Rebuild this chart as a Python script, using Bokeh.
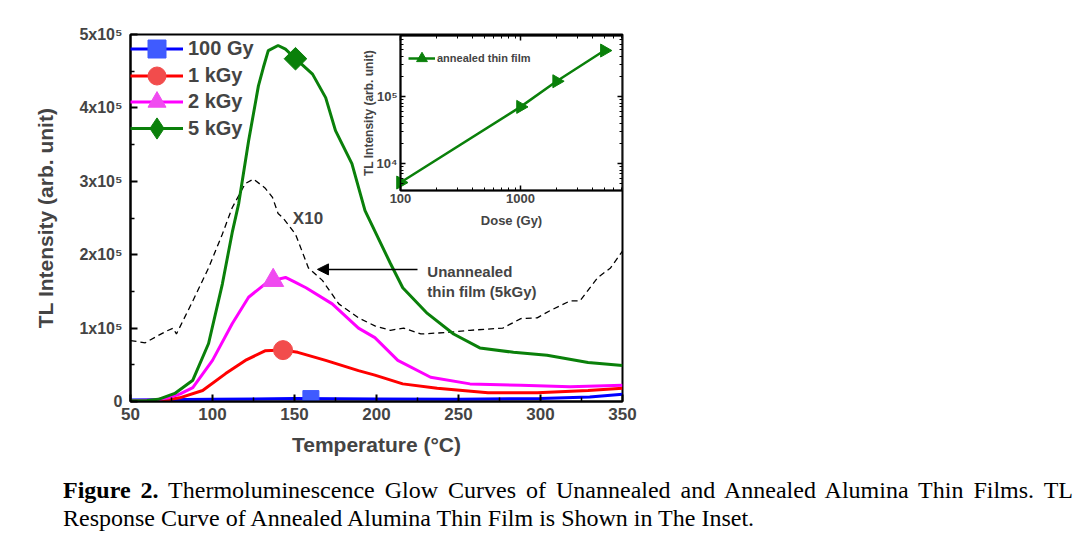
from bokeh.plotting import figure
from bokeh.models import (Range1d, FixedTicker, CustomJSTickFormatter, Legend, LegendItem,
                          Arrow, NormalHead, Label, Div, LogAxis, LogScale, BoxAnnotation)
from bokeh.layouts import column
from bokeh.embed import file_html
from bokeh.resources import INLINE

FONT = "Liberation Sans"

# ---- Glow curves of annealed films (temperature in deg C, TL intensity in arb. units)
t_100gy = [50, 100, 150, 200, 250, 300, 330, 350]
i_100gy = [2000, 3000, 4000, 3500, 3000, 4000, 6000, 10000]

t_1kgy = [50, 70, 80, 94, 108, 120, 132, 143, 152, 169, 189, 199, 216, 237, 268, 298, 329, 350]
i_1kgy = [1000, 1500, 5000, 15000, 38000, 56000, 69000, 70000, 67000, 56000, 42000, 36000,
          24000, 18000, 12000, 12000, 15000, 18000]

t_2kgy = [50, 65, 73, 80, 88, 100, 112, 122, 132, 137, 144.5, 150, 157, 173, 189, 199, 213,
          233, 257, 288, 318, 350]
i_2kgy = [1000, 2000, 5000, 10000, 19000, 56000, 106000, 142000, 160000, 165000, 169000,
          163000, 155000, 133000, 100000, 87000, 56000, 33000, 24000, 22000, 20000, 22000]

t_5kgy = [50, 60, 67, 77, 88, 97.6, 106, 112, 116, 122, 128, 131, 134, 140, 144.5, 150.6, 161,
          169, 175, 185, 193, 196, 208.5, 216, 231, 247, 263, 283.5, 304, 329, 350]
i_5kgy = [1000, 1500, 3000, 11000, 29000, 79000, 160000, 230000, 270000, 355000, 430000,
          455000, 478000, 485000, 480000, 467000, 446000, 414000, 369000, 324000, 260000,
          246000, 188000, 155000, 120000, 92000, 73000, 67000, 63000, 53000, 49000]

# Unannealed film at 5 kGy, already multiplied by 10
t_unann = [50, 59, 67, 72, 76, 78, 88, 97.6, 106, 112, 120, 125, 132, 136.6, 140, 143, 150.6,
           158.5, 167, 177, 189, 199, 208.5, 216.5, 227, 243, 257, 277, 288, 298, 306, 318,
           324, 335, 342.7, 350]
i_unann = [83000, 80000, 90000, 96000, 100000, 92000, 137000, 182000, 228000, 264000, 297000,
           303000, 291000, 278000, 256000, 250000, 228000, 182000, 165000, 133000, 114000,
           103000, 97000, 100000, 92000, 94000, 97000, 100000, 113000, 114000, 124000, 137000,
           137000, 169000, 182000, 205000]

# One symbol per curve
mark_t = {"100 Gy": [160], "1 kGy": [143], "2 kGy": [137], "5 kGy": [150.6]}
mark_i = {"100 Gy": [4000], "1 kGy": [70000], "2 kGy": [165000], "5 kGy": [467000]}

# Dose response (inset)
dose_gy = [100, 1000, 2000, 5000]
peak_tl = [5200, 70000, 169000, 485000]

x_ticks = [50, 100, 150, 200, 250, 300, 350]
x_minor = [75, 125, 175, 225, 275, 325]
y_ticks = [0, 100000, 200000, 300000, 400000, 500000]
y_minor = [50000, 150000, 250000, 350000, 450000]

dose_ticks = [100, 1000]
dose_minor = [200, 300, 400, 500, 600, 700, 800, 900, 2000, 3000, 4000, 5000, 6000, 7000]
tl_ticks = [10000, 100000]
tl_minor = [4000, 5000, 6000, 7000, 8000, 9000, 20000, 30000, 40000, 50000, 60000, 70000,
            80000, 90000, 200000, 300000, 400000, 500000, 600000, 700000, 800000]

# inset box limits (dose in Gy, TL in arb. units)
inset_dose = (100, 7080)
inset_tl = (3955, 813000)

# ---- main glow-curve plot; the inset shares its frame through extra log scales
p = figure(width=1078, height=470, x_range=Range1d(50, 350), y_range=Range1d(0, 500000),
           extra_x_ranges={"dose": Range1d(0.5623, 7080)},
           extra_y_ranges={"tl": Range1d(2.81, 842000)},
           extra_x_scales={"dose": LogScale()},
           extra_y_scales={"tl": LogScale()},
           output_backend="svg", toolbar_location=None,
           min_border_left=130, min_border_right=456, min_border_top=34, min_border_bottom=69)
p.xgrid.visible = False
p.ygrid.visible = False
p.outline_line_color = "black"
p.outline_line_width = 2
p.outline_line_alpha = 1

for ax in (p.xaxis[0], p.yaxis[0]):
    ax.axis_line_width = 2
    ax.major_tick_in = 7
    ax.major_tick_out = 0
    ax.minor_tick_in = 4
    ax.minor_tick_out = 0
    ax.major_tick_line_width = 2
    ax.minor_tick_line_width = 1.5
    ax.major_label_text_font = FONT
    ax.major_label_text_font_style = "bold"
    ax.major_label_text_font_size = "17px"
    ax.axis_label_text_font = FONT
    ax.axis_label_text_font_style = "bold"

p.xaxis.ticker = FixedTicker(ticks=x_ticks, minor_ticks=x_minor)
p.yaxis.ticker = FixedTicker(ticks=y_ticks, minor_ticks=y_minor)
p.yaxis.formatter = CustomJSTickFormatter(
    code="return tick == 0 ? '0' : Math.round(tick / 1e5) + 'x10\u2075';")
p.yaxis.major_label_text_font_size = "16px"
p.xaxis.axis_label = "Temperature (\u00b0C)"
p.yaxis.axis_label = "TL Intensity (arb. unit)"
p.xaxis.axis_label_text_font_size = "21px"
p.yaxis.axis_label_text_font_size = "21px"
p.xaxis.major_label_standoff = 6
p.xaxis.axis_label_standoff = 10
p.yaxis.major_label_standoff = 8
p.yaxis.axis_label_standoff = 19

p.line(t_unann, i_unann, line_color="black", line_width=1.3, line_dash="6 4")

# name, temperatures, intensities, line colour, symbol colour, symbol, size, angle
series = [
    ("100 Gy", t_100gy, i_100gy, "#0000FF", "#3F5BFF", "square", 16, 0.0),
    ("1 kGy", t_1kgy, i_1kgy, "#FF0000", "#F24C4C", "circle", 19, 0.0),
    ("2 kGy", t_2kgy, i_2kgy, "#FF00FF", "#F04BF0", "triangle", 21, 0.0),
    ("5 kGy", t_5kgy, i_5kgy, "#0A800A", "#0A800A", "square", 16, 0.785398),
]
# legend rows: (bottom offset above the frame's lower edge, row height)
legend_rows = [(330, 45), (303, 45), (277, 45), (243, 60)]
for (name, tx, iy, lc, mc, mk, sz, ang), (off, gh) in zip(series, legend_rows):
    lr = p.line(tx, iy, line_color=lc, line_width=3)
    mr = p.scatter(mark_t[name], mark_i[name], marker=mk, size=sz, angle=ang,
                   fill_color=mc, line_color=mc)
    key = mr
    if ang:
        # legend keys are drawn unrotated, so the tilted square gets a diamond key
        key = p.scatter(mark_t[name], mark_i[name], marker="diamond", size=sz,
                        fill_color=mc, line_color=mc, visible=False)
    p.add_layout(Legend(items=[LegendItem(label=name, renderers=[lr, key])],
                        location=(0, off), glyph_width=53, glyph_height=gh,
                        padding=0, margin=0, label_standoff=5, label_text_font=FONT,
                        label_text_font_style="bold", label_text_font_size="20px",
                        background_fill_alpha=0, border_line_color=None,
                        inactive_fill_alpha=0))

p.add_layout(Arrow(end=NormalHead(size=11, fill_color="black", line_color="black"),
                   x_start=225, y_start=180000, x_end=164, y_end=180000,
                   line_color="black", line_width=1.5))
p.add_layout(Label(x=149, y=249000, text="X10", text_baseline="middle", text_font=FONT,
                   text_font_style="bold", text_font_size="17px"))
p.add_layout(Label(x=231, y=189000, text="Unannealed", text_baseline="top", text_font=FONT,
                   text_font_style="bold", text_font_size="15px"))
p.add_layout(Label(x=231, y=162000, text="thin film (5kGy)", text_baseline="top",
                   text_font=FONT, text_font_style="bold", text_font_size="15px"))

# ---- inset: dose response on log-log axes inside the upper right corner
p.add_layout(BoxAnnotation(left=inset_dose[0], right=inset_dose[1],
                           bottom=inset_tl[0], top=inset_tl[1],
                           x_range_name="dose", y_range_name="tl", level="underlay",
                           fill_color="white", fill_alpha=1,
                           line_color="black", line_width=2, line_alpha=1))


def inset_axis(side, loc, bounds):
    ax = LogAxis(x_range_name="dose", y_range_name="tl", fixed_location=loc, bounds=bounds,
                 axis_line_width=1.5, major_tick_in=5, major_tick_out=0, minor_tick_in=3,
                 minor_tick_out=0, major_tick_line_width=1.5,
                 major_label_text_font=FONT, major_label_text_font_style="bold",
                 major_label_text_font_size="13px", major_label_standoff=3,
                 axis_label_text_font=FONT, axis_label_text_font_style="bold",
                 axis_label_text_font_size="12px")
    if side in ("below", "above"):
        ax.ticker = FixedTicker(ticks=dose_ticks, minor_ticks=dose_minor)
        ax.formatter = CustomJSTickFormatter(code="return tick.toFixed(0);")
    else:
        ax.ticker = FixedTicker(ticks=tl_ticks, minor_ticks=tl_minor)
        ax.formatter = CustomJSTickFormatter(
            code="const s = {4: '\u2074', 5: '\u2075'};"
                 " return '10' + s[Math.round(Math.log10(tick))];")
    if side in ("above", "right"):
        ax.formatter = CustomJSTickFormatter(code="return '';")
    p.add_layout(ax, side)
    return ax


ax_b = inset_axis("below", inset_tl[0], inset_dose)
ax_b.axis_label = "Dose (Gy)"
ax_b.axis_label_text_font_size = "13px"
ax_b.axis_label_standoff = 7
ax_l = inset_axis("left", inset_dose[0], inset_tl)
ax_l.axis_label = "TL Intensity (arb. unit)"
ax_l.axis_label_standoff = -2
inset_axis("above", inset_tl[1], inset_dose)
inset_axis("right", inset_dose[1], inset_tl)

il = p.line(dose_gy, peak_tl, x_range_name="dose", y_range_name="tl",
            line_color="#0A800A", line_width=2.5)
im = p.scatter(dose_gy, peak_tl, x_range_name="dose", y_range_name="tl",
               marker="triangle", angle=-1.5708, size=13,
               fill_color="#0A800A", line_color="#0A800A")
p.add_layout(Legend(items=[LegendItem(label="annealed thin film", renderers=[il, im])],
                    location=(278, 328), glyph_width=27, glyph_height=30, padding=0, margin=0,
                    label_standoff=2, label_text_font=FONT, label_text_font_style="bold",
                    label_text_font_size="11px", background_fill_alpha=0,
                    border_line_color=None))

caption = Div(width=1078, height=79, text=(
    "<div style=\"font-family:'Liberation Serif'; font-size:24px; color:#000; "
    "line-height:28px; padding:1px 10px 0 58px; width:1010px;\">"
    "<div style=\"width:1010px; text-align:justify; text-align-last:justify;\">"
    "<b>Figure 2.</b> "
    "Thermoluminescence Glow Curves of Unannealed and Annealed Alumina Thin Films. TL</div>"
    "<div>Response Curve of Annealed Alumina Thin Film is Shown in The Inset.</div></div>"))

layout = column(p, caption)
open("out.html", "w").write(file_html(layout, INLINE))
